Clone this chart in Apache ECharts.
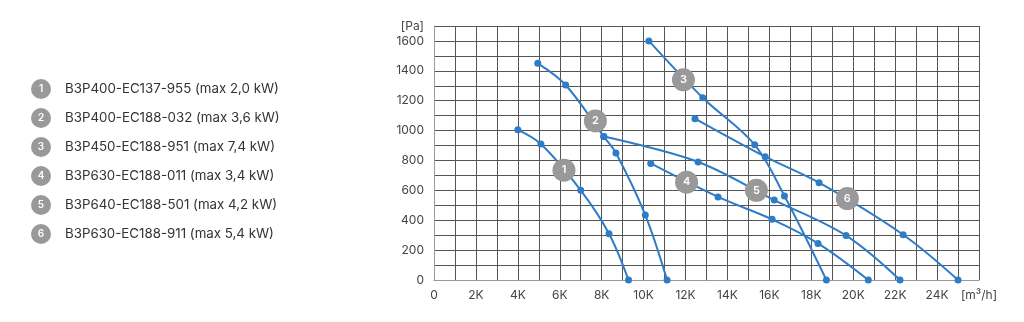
<!DOCTYPE html>
<html>
<head>
<meta charset="utf-8">
<script src="https://cdn.jsdelivr.net/npm/echarts@6/dist/echarts.min.js"></script>
<style>
html,body{margin:0;padding:0;background:#fff;}
#c{width:1024px;height:322px;}
</style>
</head>
<body>
<div id="c"></div>
<script>
const seriesNames = [
  'B3P400-EC137-955 (max 2,0 kW)',
  'B3P400-EC188-032 (max 3,6 kW)',
  'B3P450-EC188-951 (max 7,4 kW)',
  'B3P630-EC188-011 (max 3,4 kW)',
  'B3P640-EC188-501 (max 4,2 kW)',
  'B3P630-EC188-911 (max 5,4 kW)'
];
const curve1 = [[4000,1005],[5100,910],[7000,600],[8350,310],[9280,0]];
const curve2 = [[4950,1450],[6280,1305],[8100,960],[8680,850],[10080,435],[11120,0]];
const curve3 = [[10250,1600],[12820,1220],[15300,905],[16720,562],[18720,0]];
const curve4 = [[10340,780],[13550,556],[16130,406],[18320,245],[20720,0]];
const curve5 = [[8100,960],[12600,790],[16230,535],[19660,297],[22230,0]];
const curve6 = [[12450,1080],[15800,825],[18370,651],[22380,303],[25000,0]];
const curves = [curve1, curve2, curve3, curve4, curve5, curve6];
const badgePos = [[6200,735],[7700,1065],[11900,1340],[12050,655],[15380,600],[19720,545]];
const xTicks = {0:'0',2000:'2K',4000:'4K',6000:'6K',8000:'8K',10000:'10K',12000:'12K',14000:'14K',16000:'16K',18000:'18K',20000:'20K',22000:'22K',24000:'24K',26000:'[m³/h]'};
const yTicks = {0:'0',200:'200',400:'400',600:'600',800:'800',1000:'1000',1200:'1200',1400:'1400',1600:'1600',1700:'[Pa]'};

const FONT = 'Inter, Roboto, sans-serif';
const chart = echarts.init(document.getElementById('c'), null, {renderer:'canvas'});

const lineSeries = curves.map((d,i)=>({
  type:'line', name:seriesNames[i], data:d, smooth:0.35,
  symbol:'circle', symbolSize:7, z:3,
  lineStyle:{color:'#2f7cc6', width:2},
  itemStyle:{color:'#2f7cc6'}
}));
const badgeSeries = {
  type:'scatter', z:5, symbol:'circle', symbolSize:23,
  data: badgePos.map((p,i)=>({value:p, name:String(i+1)})),
  itemStyle:{color:'#999999', opacity:1},
  label:{show:true, position:'inside', formatter:p=>p.name, color:'#fff', fontSize:11, fontFamily:FONT, fontWeight:600}
};

const graphics = [];
seriesNames.forEach((n,i)=>{
  const cy = 89 + i*29;
  graphics.push({type:'circle', shape:{cx:41, cy:cy, r:10}, style:{fill:'#999999'}});
  graphics.push({type:'text', x:41, y:cy, style:{text:String(i+1), fill:'#fff', font:'600 10px '+FONT, textAlign:'center', textVerticalAlign:'middle'}});
  graphics.push({type:'text', x:65, y:cy, style:{text:n, fill:'#333', font:'13.3px '+FONT, textVerticalAlign:'middle'}});
});

chart.setOption({
  animation:false,
  grid:{left:434, right:45, top:26, bottom:42, show:false},
  xAxis:{
    type:'value', min:0, max:26000, interval:1000,
    axisLine:{show:true, lineStyle:{color:'#999', width:1}},
    axisTick:{show:false},
    splitLine:{show:true, lineStyle:{color:'#555', width:1}},
    axisLabel:{
      show:true, margin:9, color:'#444', fontSize:12, fontFamily:FONT,
      showMinLabel:true, showMaxLabel:true,
      formatter:v=> (xTicks[v]!==undefined ? xTicks[v] : '')
    }
  },
  yAxis:{
    type:'value', min:0, max:1700, interval:100,
    axisLine:{show:true, lineStyle:{color:'#999', width:1}},
    axisTick:{show:false},
    splitLine:{show:true, lineStyle:{color:'#555', width:1}},
    axisLabel:{
      show:true, margin:10, color:'#444', fontSize:12, fontFamily:FONT,
      showMinLabel:true, showMaxLabel:true,
      formatter:v=> (yTicks[v]!==undefined ? yTicks[v] : '')
    }
  },
  graphic:graphics,
  series:[...lineSeries, badgeSeries]
});
</script>
</body>
</html>
